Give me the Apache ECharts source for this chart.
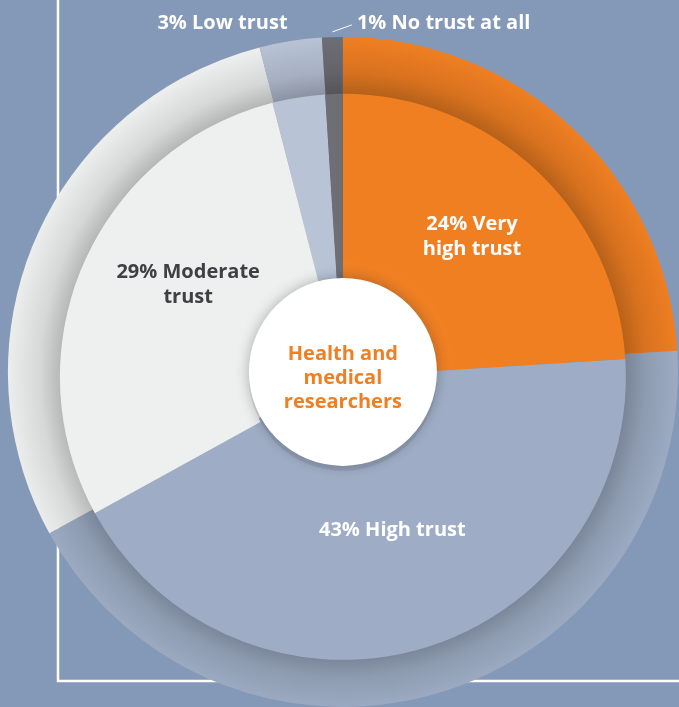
<!DOCTYPE html>
<html>
<head>
<meta charset="utf-8">
<script src="https://cdn.jsdelivr.net/npm/echarts@6/dist/echarts.min.js"></script>
<style>
html, body { margin: 0; padding: 0; background: #8498b7; }
#chart { width: 679px; height: 707px; }
</style>
</head>
<body>
<div id="chart"></div>
<script>
var categories = ['Very high trust', 'High trust', 'Moderate trust', 'Low trust', 'No trust at all'];
var shares = [24, 43, 29, 3, 1];
var sliceLabels = ['24% Very\nhigh trust', '43% High trust', '29% Moderate\ntrust', '3% Low trust', '1% No trust at all'];
var sliceColors = ['#f07f22', '#9eadc5', '#eef0ef', '#b8c3d6', '#6e6e75'];
var labelColors = ['#ffffff', '#ffffff', '#3e4043', '#ffffff', '#ffffff'];
var centerTitle = 'Health and\nmedical\nresearchers';

var FONT = '"Open Sans", "Noto Sans", sans-serif';

function shade(hex, k) {
    var n = parseInt(hex.slice(1), 16);
    var r = Math.round(((n >> 16) & 255) * k);
    var g = Math.round(((n >> 8) & 255) * k);
    var b = Math.round((n & 255) * k);
    return 'rgb(' + r + ',' + g + ',' + b + ')';
}

init();

function init() {
    var chartDoc = document.getElementById('chart');
    var chart = echarts.init(chartDoc);

    var W = chart.getWidth(), H = chart.getHeight();
    var cx = W * 0.505, cy = H * 0.526;
    var rOuter = 335, rInner = 283, rHole = 94;
    var edge = rInner / rOuter;

    // outer ring: same slices, shaded by the inner disc
    var outerData = categories.map(function (name, i) {
        var base = sliceColors[i];
        return {
            name: name,
            value: shares[i],
            itemStyle: {
                color: {
                    type: 'radial', x: cx, y: cy + 3, r: rOuter, global: true,
                    colorStops: [
                        { offset: 0, color: base },
                        { offset: edge - 0.005, color: shade(base, 0.76) },
                        { offset: edge + 0.06, color: shade(base, 0.9) },
                        { offset: 1, color: shade(base, 0.99) }
                    ]
                }
            },
            label: {
                show: i >= 3,
                formatter: sliceLabels[i]
            },
            labelLine: { show: i === 4 }
        };
    });

    var innerData = categories.map(function (name, i) {
        return {
            name: name,
            value: shares[i],
            itemStyle: { color: sliceColors[i] },
            label: { formatter: sliceLabels[i], color: labelColors[i] }
        };
    });

    // nudges for the inside labels, as placed in the original
    var innerNudge = [[-2, 0], [-4, -30], [21, -16], [0, 0], [0, 0]];

    var option = {
        backgroundColor: '#8498b7',
        animation: false,
        graphic: [{
            type: 'rect',
            z: -10,
            shape: { x: 58, y: -10, width: 700, height: 691 },
            style: { fill: null, stroke: '#ffffff', lineWidth: 2.5 }
        }],
        series: [{
            type: 'pie',
            silent: true,
            center: ['50.5%', '52.6%'],
            radius: [0, rOuter],
            startAngle: 90,
            clockwise: true,
            avoidLabelOverlap: false,
            emphasis: { disabled: true },
            label: {
                show: false,
                position: 'outside',
                color: '#ffffff',
                fontFamily: FONT,
                fontWeight: 'bold',
                fontSize: 20
            },
            labelLine: {
                show: false,
                length: 6,
                length2: 0,
                lineStyle: { color: '#ffffff', width: 1 }
            },
            labelLayout: function (p) {
                var r = p.rect;
                if (p.dataIndex === 4) {
                    var lx = r.x + r.width + 14, ly = r.y - 14;
                    return {
                        x: lx, y: ly, align: 'left', verticalAlign: 'middle',
                        labelLinePoints: [[r.x + r.width / 2, r.y - 5], [lx - 5, ly + 2], [lx - 5, ly + 2]]
                    };
                }
                if (p.dataIndex === 3) {
                    return { x: r.x + 28, y: r.y - 14, align: 'right', verticalAlign: 'middle' };
                }
            },
            data: outerData
        }, {
            type: 'pie',
            silent: true,
            center: ['50.5%', '53.3%'],
            radius: [rHole, rInner],
            startAngle: 90,
            clockwise: true,
            emphasis: { disabled: true },
            label: {
                position: 'inside',
                fontFamily: FONT,
                fontWeight: 'bold',
                fontSize: 20,
                lineHeight: 25,
                align: 'center'
            },
            labelLine: { show: false },
            labelLayout: function (p) {
                var lr = p.labelRect;
                var d = innerNudge[p.dataIndex];
                if (p.dataIndex >= 3) {
                    return { fontSize: 0 };
                }
                return {
                    x: lr.x + lr.width / 2 + d[0],
                    y: lr.y + lr.height / 2 + d[1],
                    align: 'center',
                    verticalAlign: 'middle'
                };
            },
            data: innerData
        }, {
            type: 'pie',
            silent: true,
            center: ['50.5%', '52.6%'],
            radius: [0, rHole],
            emphasis: { disabled: true },
            itemStyle: {
                color: '#ffffff',
                shadowBlur: 14,
                shadowColor: 'rgba(40,40,50,0.35)'
            },
            label: {
                position: 'center',
                formatter: '{b}',
                color: '#f07f22',
                fontFamily: FONT,
                fontWeight: 'bold',
                fontSize: 20,
                lineHeight: 24,
                align: 'center'
            },
            labelLayout: function (p) {
                var lr = p.labelRect;
                return { x: lr.x + lr.width / 2, y: lr.y + lr.height / 2 + 6, align: 'center', verticalAlign: 'middle' };
            },
            data: [{ name: centerTitle, value: 1 }]
        }]
    };

    chart.setOption(option);
}
</script>
</body>
</html>
